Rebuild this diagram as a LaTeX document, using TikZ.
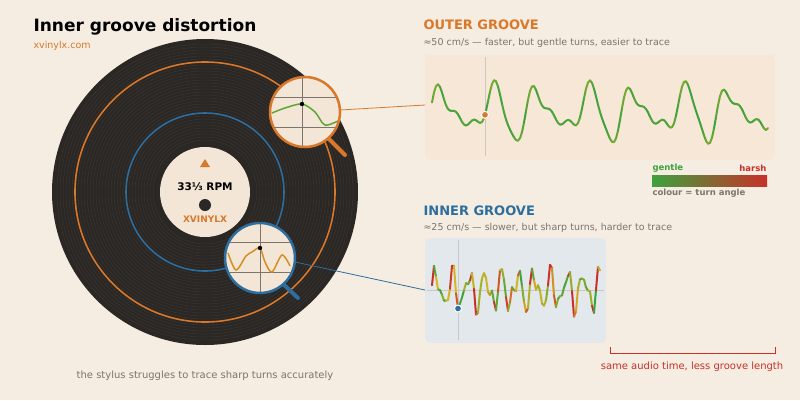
\documentclass[tikz,border=0pt]{standalone}
\usepackage{fontspec}
\setmainfont{DejaVu Sans}
\usetikzlibrary{positioning}
\definecolor{paper}{HTML}{F5EDE1}
\definecolor{vinyl}{HTML}{2A2724}
\definecolor{groove}{HTML}{3A3632}
\definecolor{outerc}{HTML}{D9782A}
\definecolor{innerc}{HTML}{2E6E9E}
\definecolor{gentlec}{HTML}{3DA23D}
\definecolor{midc}{HTML}{D8B722}
\definecolor{harshc}{HTML}{C8302A}
\definecolor{labelc}{HTML}{F3E6D6}
\definecolor{txtgray}{HTML}{7A756E}
\definecolor{bluepanel}{HTML}{E2E8EC}
\definecolor{orangepanel}{HTML}{F7E7D6}
% wave shapes
\pgfmathdeclarefunction{fout}{1}{\pgfmathparse{18*sin(7.5*#1)+10*sin(11.3*#1+60)+5*sin(19*#1)}}
\pgfmathdeclarefunction{finn}{1}{\pgfmathparse{15*sin(22*#1)+9*sin(37*#1+30)+4*sin(55*#1)}}
% coloured wave: function, x0, x1, mid y, scale
\newcommand{\turnwave}[5]{%
  \pgfmathtruncatemacro{\xsec}{#2+2}%
  \foreach \xa in {#2,\xsec,...,#3}{%
    \pgfmathsetmacro{\ya}{#4-#5*#1(\xa-#2)}%
    \pgfmathsetmacro{\yb}{#4-#5*#1(\xa+2-#2)}%
    \pgfmathsetmacro{\yc}{#4-#5*#1(\xa+4-#2)}%
    \pgfmathsetmacro{\kk}{min(1,abs(\ya-2*\yb+\yc)/4/6)}%
    \pgfmathtruncatemacro{\pa}{min(100,200*\kk)}%
    \pgfmathtruncatemacro{\pb}{max(0,200*\kk-100)}%
    \colorlet{segc}{midc!\pa!gentlec}%
    \colorlet{segc}{harshc!\pb!segc}%
    \draw[segc, line width=2pt, line cap=round] (\xa,\ya) -- (\xa+2,\yb);
  }}
\tikzset{
  title/.style={font=\bfseries\fontsize{17}{19}\selectfont, anchor=west},
  head/.style={font=\bfseries\fontsize{13}{15}\selectfont, anchor=west},
  sub/.style={font=\fontsize{9.5}{11}\selectfont, text=txtgray, anchor=west},
  guide/.style={draw=txtgray!40, line width=0.6pt},
  lens/.style={line width=2.5pt, fill=labelc},
  handle/.style={line width=4pt, line cap=round}
}
\begin{document}
\begin{tikzpicture}[x=1pt, y=-1pt]
\fill[paper] (0,0) rectangle (800,400);
\useasboundingbox (0,0) rectangle (800,400);

% record
\fill[vinyl] (205,192) circle (153);
\foreach \r in {52,55,...,150}
  \draw[groove, line width=0.5pt] (205,192) circle (\r);
\draw[outerc, line width=1.6pt] (205,192) circle (130);
\draw[innerc, line width=1.6pt] (205,192) circle (79);
\fill[labelc] (205,192) circle (45);
\fill[vinyl] (205,205) circle (6);
\fill[outerc] (200,167) -- (210,167) -- (205,159) -- cycle;
\node[font=\bfseries\fontsize{10.5}{12}\selectfont] (rpm) at (205,187) {33⅓ RPM};
\node[font=\bfseries\fontsize{9}{11}\selectfont, text=outerc] (brand) at (205,219) {XVINYLX};

% title
\node[title] (ttl) at (30,27) {Inner groove distortion};
\node[font=\fontsize{9.5}{11}\selectfont, text=outerc, anchor=west] (site) at (30,46) {xvinylx.com};

% outer panel
\fill[orangepanel, rounded corners=6pt] (425,55) rectangle (775,160);
\draw[guide] (485,57) -- (485,156);
\coordinate (outpanel) at (425,105);
\turnwave{fout}{432}{766}{112}{1.1}
\pgfmathsetmacro{\dy}{112-1.1*fout(485-432)}
\fill[outerc, draw=white, line width=1pt] (485,\dy) circle (3.5);
\node[head, text=outerc] (outhead) at (420,25) {OUTER GROOVE};
\node[sub] (outsub) at (420,43) {≈50 cm/s — faster, but gentle turns, easier to trace};

% legend
\shade[left color=gentlec, middle color=midc, right color=harshc] (652,175) rectangle (767,186);
\node[font=\bfseries\fontsize{8.5}{10}\selectfont, text=gentlec, anchor=west] (gentle) at (649,168) {gentle};
\node[font=\bfseries\fontsize{8.5}{10}\selectfont, text=harshc, anchor=east] (harsh) at (770,168) {harsh};
\node[font=\bfseries\fontsize{8.5}{10}\selectfont, text=txtgray, anchor=west] (key) at (649,193) {colour = turn angle};

% inner panel
\fill[bluepanel, rounded corners=6pt] (425,238) rectangle (606,343);
\draw[guide] (427,290) -- (604,290);
\draw[guide] (458,240) -- (458,340);
\coordinate (inpanel) at (425,290);
\turnwave{finn}{432}{598}{290}{1.05}
\pgfmathsetmacro{\dyi}{290-1.05*finn(458-432)}
\fill[innerc, draw=white, line width=1pt] (458,\dyi) circle (3.5);
\node[head, text=innerc] (inhead) at (420,211) {INNER GROOVE};
\node[sub] (insub) at (420,228) {≈25 cm/s — slower, but sharp turns, harder to trace};

% magnifiers
\coordinate (outlens) at (305,112);
\coordinate (inlens) at (260,258);
\draw[outerc, handle] (328,138) -- (345,155);
\draw[innerc, handle] (283,284) -- (298,298);
\draw[outerc, line width=0.8pt] (340,110) -- (outpanel);
\draw[innerc, line width=0.8pt] (295,262) -- (inpanel);
\draw[outerc, lens] (outlens) circle (35);
\begin{scope}
  \clip (outlens) circle (34);
  \draw[guide, txtgray] (270,97) -- (340,97) (270,127) -- (340,127) (302,78) -- (302,147);
  \draw[gentlec!80!midc, line width=1.5pt] plot[smooth] coordinates {(272,113) (285,108) (302,104) (315,112) (325,125) (340,120)};
  \fill (302,104) circle (2.2);
\end{scope}
\draw[innerc, lens] (inlens) circle (35);
\begin{scope}
  \clip (inlens) circle (34);
  \draw[guide, txtgray] (225,242) -- (296,242) (225,272) -- (296,272) (260,224) -- (260,292);
  \draw[midc!70!harshc, line width=1.5pt] plot[smooth] coordinates {(228,253) (236,270) (246,256) (252,252) (260,248) (265,262) (272,272) (282,255) (290,266)};
  \fill (260,248) circle (2.2);
\end{scope}

% notes
\node[font=\fontsize{10}{12}\selectfont, text=txtgray] (note) at (205,376) {the stylus struggles to trace sharp turns accurately};
\draw[harshc, line width=0.8pt] (610,347) -- (610,353) -- (775,353) -- (775,347);
\node[font=\fontsize{10}{12}\selectfont, text=harshc] (less) at (692,367) {same audio time, less groove length};
\end{tikzpicture}
\end{document}
